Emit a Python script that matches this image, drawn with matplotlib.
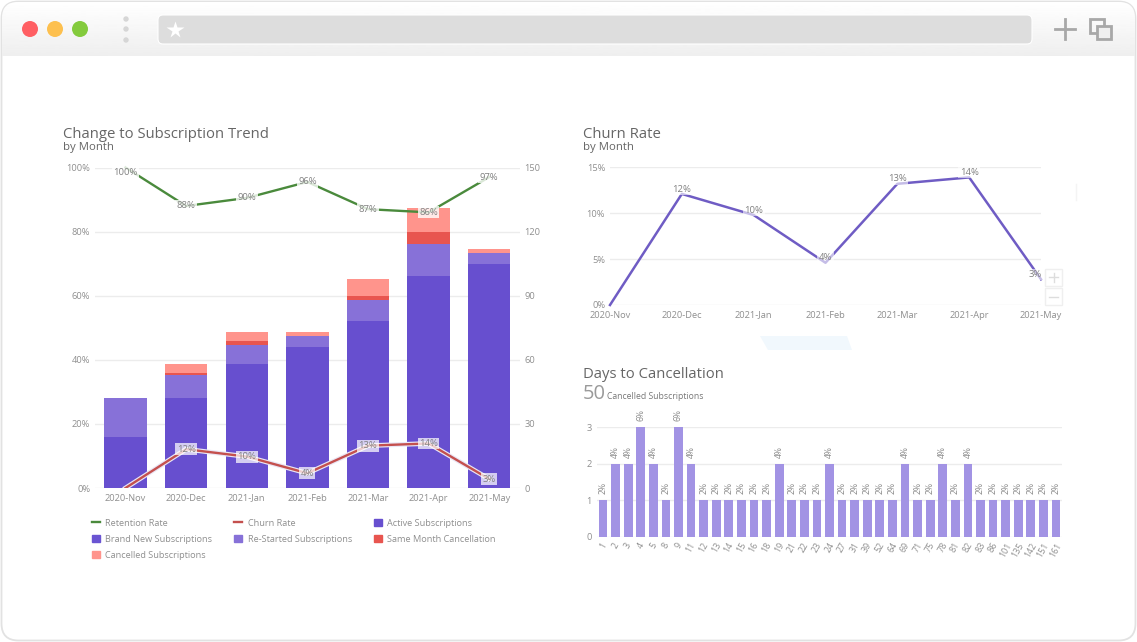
import matplotlib

matplotlib.use("Agg")

import matplotlib.patheffects as pe
import matplotlib.pyplot as plt
import numpy as np
from matplotlib.lines import Line2D
from matplotlib.patches import Circle, FancyBboxPatch, Patch, Polygon, Rectangle

WIDTH, HEIGHT = 1137, 642

MONTHS = ["2020-Nov", "2020-Dec", "2021-Jan", "2021-Feb", "2021-Mar", "2021-Apr", "2021-May"]
ACTIVE = [24, 42, 58, 66, 78, 99, 105]
RESTARTED = [18, 11, 9, 5, 10, 15, 5]
SAME_MONTH = [0, 1, 2, 0, 2, 6, 0]
CANCELLED = [0, 4, 4, 2, 8, 11, 2]
RETENTION = [100, 88, 90.5, 95.5, 87, 86, 97]
RETENTION_LABELS = ["100%", "88%", "90%", "96%", "87%", "86%", "97%"]
CHURN = [0, 12.1, 9.8, 4.6, 13.2, 13.9, 2.8]
CHURN_LABELS = ["", "12%", "10%", "4%", "13%", "14%", "3%"]

DAYS = ["1", "2", "3", "4", "5", "8", "9", "11", "12", "13", "14", "15", "16", "18", "19", "21", "22", "23", "24",
        "27", "31", "39", "52", "64", "69", "71", "75", "78", "81", "82", "83", "86", "101", "135", "142", "151", "161"]
DAY_COUNTS = [1, 2, 2, 3, 2, 1, 3, 2, 1, 1, 1, 1, 1, 1, 2, 1, 1, 1, 2, 1, 1, 1, 1, 1, 2, 1, 1, 2, 1, 2,
              1, 1, 1, 1, 1, 1, 1]
DAY_LABELS = ["2%", "4%", "4%", "6%", "4%", "2%", "6%", "4%", "2%", "2%", "2%", "2%", "2%", "2%", "4%", "2%", "2%",
              "2%", "4%", "2%", "2%", "2%", "2%", "2%", "4%", "2%", "2%", "4%", "2%", "4%", "2%", "2%", "2%", "2%",
              "2%", "2%", "2%"]

C_ACTIVE = "#674fcf"
C_BRAND_NEW = "#6a54d2"
C_RESTARTED = "#8771d8"
C_SAME_MONTH = "#e8554f"
C_CANCELLED = "#ff948c"
C_RETENTION = "#4a8a3c"
C_CHURN = "#c4504e"
C_LINE = "#6f5cc4"
C_DAYS = "#a293e4"
C_GRID = "#ececec"
C_TICK = "#8f8f8f"
C_TITLE = "#666666"

plt.rcParams["font.family"] = ["Open Sans", "DejaVu Sans"]


def axes_at(fig, left, top, right, bottom):
    return fig.add_axes([left / WIDTH, 1 - bottom / HEIGHT, (right - left) / WIDTH, (bottom - top) / HEIGHT])


def clean(ax):
    for spine in ax.spines.values():
        spine.set_visible(False)
    ax.tick_params(length=0, labelsize=6.7, labelcolor=C_TICK)
    ax.patch.set_alpha(0)


def point_label(ax, x, y, text, dy=0, dx=0, alpha=0.65):
    ax.annotate(text, (x, y), xytext=(dx, dy), textcoords="offset points", ha="center", va="center",
                fontsize=6.8, color="#808080", zorder=6, annotation_clip=False,
                bbox=dict(boxstyle="square,pad=0.15", fc="white", ec="none", alpha=alpha))


def draw_frame(fig):
    ax = fig.add_axes([0, 0, 1, 1])
    ax.set_xlim(0, WIDTH)
    ax.set_ylim(HEIGHT, 0)
    ax.axis("off")
    outline = FancyBboxPatch((1.5, 1.5), WIDTH - 3, HEIGHT - 3, boxstyle="round,pad=0,rounding_size=17",
                             fc="white", ec="#e2e2e2", lw=1.3)
    ax.add_patch(outline)
    shade = np.linspace(1.0, 0.935, 64).reshape(-1, 1)
    bar = ax.imshow(shade, extent=(2, WIDTH - 2, 56, 2), cmap="gray", vmin=0, vmax=1, aspect="auto", zorder=1)
    clip = FancyBboxPatch((2, 2), WIDTH - 4, 90, boxstyle="round,pad=0,rounding_size=16", transform=ax.transData)
    bar.set_clip_path(clip)
    ax.set_xlim(0, WIDTH)
    ax.set_ylim(HEIGHT, 0)
    for x, color in [(30, "#ff5f63"), (55, "#fdc04f"), (80, "#84cb3d")]:
        ax.add_patch(Circle((x, 29), 8, fc=color, ec="none", zorder=2))
    for y in (19, 29, 40):
        ax.add_patch(Circle((126, y), 2.7, fc="#d6d6d6", ec="none", zorder=2))
    ax.add_patch(FancyBboxPatch((158, 15), 874, 29, boxstyle="round,pad=0,rounding_size=5",
                                fc="#dddddd", ec="white", lw=0.8, zorder=2))
    ax.plot([175], [29.5], marker="*", ms=13, color="white", mec="none", zorder=3)
    ax.plot([1055, 1075], [28.5, 28.5], color="#a8a8a8", lw=2, zorder=3)
    ax.plot([1064.5, 1064.5], [19, 39], color="#a8a8a8", lw=2, zorder=3)
    ax.add_patch(Rectangle((1090, 19), 14, 14, fc="none", ec="#a8a8a8", lw=2, zorder=3))
    ax.add_patch(Rectangle((1097, 26), 14, 13, fc="#efefef", ec="#a8a8a8", lw=2, zorder=4))
    ax.add_patch(Polygon([(760, 336), (847, 336), (852, 350), (768, 350)], fc="#f1f8fd", ec="none", zorder=1))
    ax.plot([1076, 1076], [184, 200], color="#f4f4f4", lw=1)
    for top in (269, 288):
        ax.add_patch(Rectangle((1045, top), 17, 17, fc="none", ec="#efefef", lw=1))
    ax.plot([1049, 1058], [277, 277], color="#dddddd", lw=1)
    ax.plot([1053.5, 1053.5], [272.5, 281.5], color="#dddddd", lw=1)
    ax.plot([1049, 1058], [297, 297], color="#dddddd", lw=1)
    ax.text(63, 134, "Change to Subscription Trend", fontsize=10.7, color=C_TITLE, va="center")
    ax.text(63, 147.5, "by Month", fontsize=8.2, color=C_TITLE, va="center")
    ax.text(583, 134, "Churn Rate", fontsize=10.7, color=C_TITLE, va="center")
    ax.text(583, 147.5, "by Month", fontsize=8.2, color=C_TITLE, va="center")
    ax.text(583, 374, "Days to Cancellation", fontsize=10.7, color=C_TITLE, va="center")
    ax.text(583, 394, "50", fontsize=14.5, color="#9a9a9a", va="center")
    ax.text(607, 396.5, "Cancelled Subscriptions", fontsize=6.2, color="#777777", va="center")


def draw_trend(fig):
    x = np.arange(len(MONTHS))
    ax = axes_at(fig, 95.2, 167.5, 519.5, 488)
    clean(ax)
    ax.set_xlim(-0.5, 6.5)
    ax.set_ylim(0, 150)
    ax.set_yticks(range(0, 151, 30))
    ax.set_xticks(x, MONTHS)
    ax.tick_params(axis="x", pad=4)
    ax.grid(axis="y", color=C_GRID, lw=1)
    ax.set_axisbelow(True)
    bottom = np.zeros(len(MONTHS))
    for values, color in [(ACTIVE, C_ACTIVE), (RESTARTED, C_RESTARTED), (SAME_MONTH, C_SAME_MONTH),
                          (CANCELLED, C_CANCELLED)]:
        ax.bar(x, values, 0.7, bottom=bottom, color=color, zorder=2)
        bottom += np.array(values)

    rate = ax.twinx()
    clean(rate)
    # twinx puts the original axis on the left, so swap them afterwards
    ax.yaxis.tick_right()
    rate.yaxis.tick_left()
    ax.tick_params(length=0)
    rate.tick_params(length=0)
    rate.set_ylim(0, 100)
    rate.set_yticks(range(0, 101, 20), [f"{v}%" for v in range(0, 101, 20)])
    halo = [pe.withStroke(linewidth=3.4, foreground="#e9e6f5")]
    rate.plot(x, RETENTION, color=C_RETENTION, lw=1.7, zorder=4, clip_on=False)
    rate.plot(x, CHURN, color=C_CHURN, lw=1.7, zorder=4, path_effects=halo, clip_on=True)
    for xi, value, text in zip(x, RETENTION, RETENTION_LABELS):
        point_label(rate, xi, value, text, dy=-3.5 if value >= 100 else 0, alpha=0.8)
    for xi, value, text in zip(x, CHURN, CHURN_LABELS):
        if text:
            point_label(rate, xi, value, text, alpha=0.72)

    handles = [
        Line2D([], [], color=C_RETENTION, lw=1.7),
        Line2D([], [], color=C_CHURN, lw=1.7),
        Patch(color=C_ACTIVE),
        Patch(color=C_BRAND_NEW),
        Patch(color=C_RESTARTED),
        Patch(color=C_SAME_MONTH),
        Patch(color=C_CANCELLED),
    ]
    labels = ["Retention Rate", "Churn Rate", "Active Subscriptions", "Brand New Subscriptions",
              "Re-Started Subscriptions", "Same Month Cancellation", "Cancelled Subscriptions"]
    order = [0, 3, 6, 1, 4, 2, 5]
    fig.legend([handles[i] for i in order], [labels[i] for i in order], ncol=3, frameon=False, loc="upper left",
               bbox_to_anchor=(92 / WIDTH, 1 - 518.5 / HEIGHT), fontsize=6.6, labelcolor=C_TICK, handlelength=0.85,
               handleheight=0.85, handletextpad=0.6, columnspacing=2.4, labelspacing=0.78, borderpad=0, borderaxespad=0)


def draw_churn(fig):
    x = np.arange(len(MONTHS))
    ax = axes_at(fig, 610, 167.3, 1041, 305)
    clean(ax)
    ax.set_xlim(0, 6)
    ax.set_ylim(0, 15)
    ax.set_yticks([0, 5, 10, 15], ["0%", "5%", "10%", "15%"])
    ax.set_xticks(x, MONTHS)
    ax.tick_params(axis="x", pad=4)
    ax.grid(axis="y", color=C_GRID, lw=1)
    ax.set_axisbelow(True)
    ax.plot(x, CHURN, color=C_LINE, lw=1.8, clip_on=False, zorder=3)
    for xi, value, text in zip(x, CHURN, CHURN_LABELS):
        if text:
            point_label(ax, xi, value, text, dy=3.5, dx=-4 if xi == 6 else 0, alpha=0.6)


def draw_days(fig):
    x = np.arange(len(DAYS))
    ax = axes_at(fig, 596.7, 427.3, 1062.3, 536.7)
    clean(ax)
    ax.set_xlim(-0.5, len(DAYS) - 0.5)
    ax.set_ylim(0, 3)
    ax.set_yticks([0, 1, 2, 3])
    ax.set_xticks(x, DAYS, rotation=60, ha="center", fontsize=6.4)
    ax.tick_params(axis="x", pad=3)
    ax.grid(axis="y", color=C_GRID, lw=1)
    ax.set_axisbelow(True)
    ax.bar(x, DAY_COUNTS, 0.69, color=C_DAYS, zorder=2)
    for xi, value, text in zip(x, DAY_COUNTS, DAY_LABELS):
        ax.annotate(text, (xi, value), xytext=(0, 4.5), textcoords="offset points", ha="center", va="bottom",
                    rotation=90, fontsize=6.2, color="#8a8a8a", annotation_clip=False)


def main():
    fig = plt.figure(figsize=(WIDTH / 100, HEIGHT / 100), dpi=100, facecolor="white")
    draw_frame(fig)
    draw_trend(fig)
    draw_churn(fig)
    draw_days(fig)
    fig.savefig("out.png", dpi=100, facecolor="white")


if __name__ == "__main__":
    main()
